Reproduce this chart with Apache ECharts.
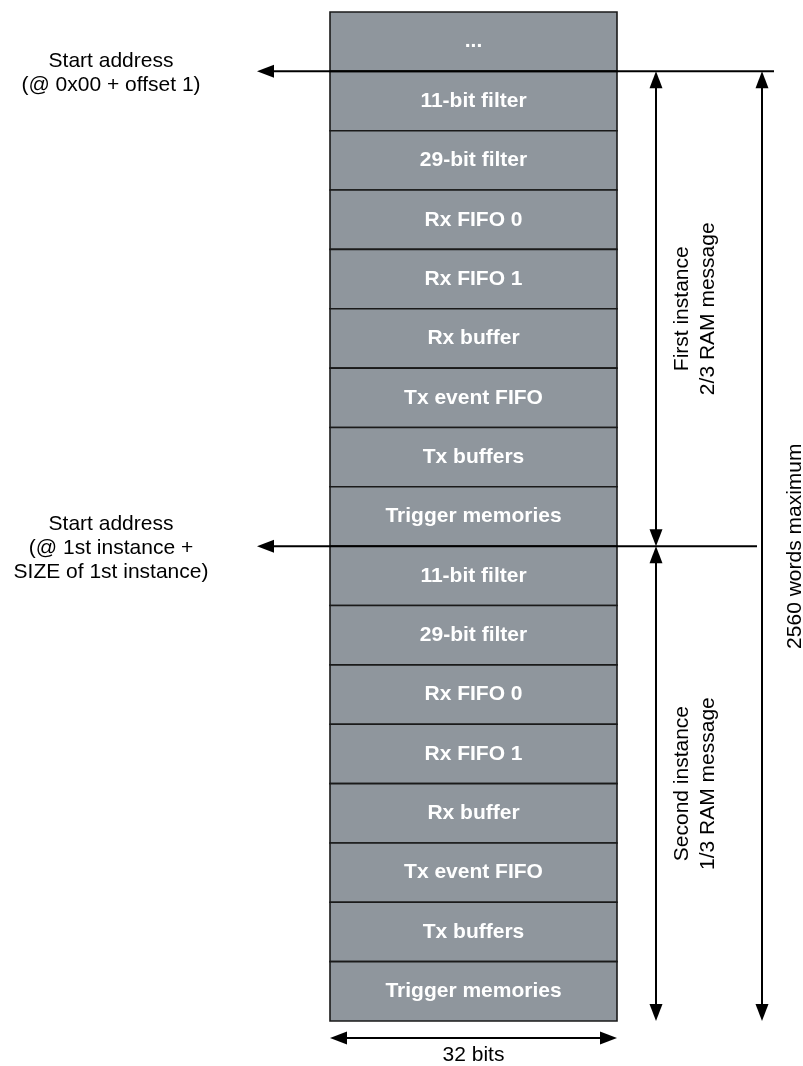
<!DOCTYPE html>
<html><head><meta charset="utf-8">
<script src="https://cdn.jsdelivr.net/npm/echarts@6/dist/echarts.min.js"></script>
<style>html,body{margin:0;padding:0;background:#fff}#c{width:803px;height:1066px}</style>
</head><body><div id="c"></div>
<script>
// ---- data ----
const blockLabels = ['...', '11-bit filter', '29-bit filter', 'Rx FIFO 0', 'Rx FIFO 1', 'Rx buffer', 'Tx event FIFO', 'Tx buffers', 'Trigger memories',
  '11-bit filter', '29-bit filter', 'Rx FIFO 0', 'Rx FIFO 1', 'Rx buffer', 'Tx event FIFO', 'Tx buffers', 'Trigger memories'];
const wordBits = 32;
const instanceStarts = [1, 9];
const instanceEnds = [9, 17];
const instanceLabels = ['First instance\n2/3 RAM message', 'Second instance\n1/3 RAM message'];
const startAddressRows = [1, 9];
const startAddressLabels = ['Start address\n(@ 0x00 + offset 1)', 'Start address\n(@ 1st instance +\nSIZE of 1st instance)'];
const totalSpan = [1, 17];
const totalLabel = '2560 words maximum';
const widthLabel = '32 bits';

// ---- styles ----
const FONT = '"Liberation Sans", Arial, Helvetica, sans-serif';
const BLOCK_FILL = '#8f969d';
const BORDER = '#1a1a1a';
const INK = '#000000';
const LW = 2;

function head(tx, ty, dx, dy) {
  const L = 17, W = 6.5;
  const bx = tx - dx * L, by = ty - dy * L;
  const px = -dy, py = dx;
  return { type: 'polygon', shape: { points: [[tx, ty], [bx + px * W, by + py * W], [bx - px * W, by - py * W]] }, style: { fill: INK } };
}
function seg(x1, y1, x2, y2) {
  return { type: 'line', shape: { x1, y1, x2, y2 }, style: { stroke: INK, lineWidth: LW } };
}
function txt(text, x, y, opts) {
  return Object.assign({ type: 'text', x: x, y: y, style: Object.assign({ text: text, x: 0, y: 0, align: 'center', verticalAlign: 'middle', fill: INK, font: '21px ' + FONT }, opts && opts.style) }, opts && opts.el);
}

const chart = echarts.init(document.getElementById('c'), null, { renderer: 'canvas' });
const option = {
  backgroundColor: '#ffffff',
  animation: false,
  grid: { left: 330, top: 12, width: 287, height: 1009 },
  xAxis: { type: 'value', min: 0, max: wordBits, show: false },
  yAxis: { type: 'value', min: 0, max: blockLabels.length, inverse: true, show: false },
  series: [
    {
      type: 'custom', name: 'blocks', clip: false,
      data: blockLabels.map((l, i) => [i]),
      renderItem(params, api) {
        const i = api.value(0);
        const p0 = api.coord([0, i]), p1 = api.coord([wordBits, i + 1]);
        return { type: 'group', children: [
          { type: 'rect', shape: { x: p0[0], y: p0[1], width: p1[0] - p0[0], height: p1[1] - p0[1] }, style: { fill: BLOCK_FILL, stroke: BORDER, lineWidth: 1.6 } },
          { type: 'text', style: { text: blockLabels[i], x: (p0[0] + p1[0]) / 2, y: (p0[1] + p1[1]) / 2, align: 'center', verticalAlign: 'middle', fill: '#ffffff', font: 'bold 21px ' + FONT } }
        ] };
      }
    },
    {
      type: 'custom', name: 'start addresses', clip: false,
      data: startAddressRows.map((r, k) => [r, k]),
      renderItem(params, api) {
        const r = api.value(0), k = api.value(1);
        const pL = api.coord([0, r]), pR = api.coord([wordBits, r]);
        const totalX = pR[0] + 145;
        const endX = r === totalSpan[0] ? totalX + 12 : totalX - 5;
        const tipX = pL[0] - 73;
        return { type: 'group', children: [
          seg(tipX + 10, pL[1], endX, pL[1]),
          head(tipX, pL[1], -1, 0),
          txt(startAddressLabels[k], pL[0] - 219, pL[1] + 2, { style: { lineHeight: 24 } })
        ] };
      }
    },
    {
      type: 'custom', name: 'instances', clip: false,
      data: instanceStarts.map((s, k) => [s, instanceEnds[k], k]),
      renderItem(params, api) {
        const s = api.value(0), e = api.value(1), k = api.value(2);
        const pT = api.coord([wordBits, s]), pB = api.coord([wordBits, e]);
        const x = pT[0] + 39;
        return { type: 'group', children: [
          seg(x, pT[1] + 10, x, pB[1] - 10),
          head(x, pT[1], 0, -1),
          head(x, pB[1], 0, 1),
          txt(instanceLabels[k], pT[0] + 78, (pT[1] + pB[1]) / 2, { style: { lineHeight: 26 }, el: { rotation: Math.PI / 2 } })
        ] };
      }
    },
    {
      type: 'custom', name: 'total', clip: false,
      data: [[totalSpan[0], totalSpan[1]]],
      renderItem(params, api) {
        const pT = api.coord([wordBits, api.value(0)]), pB = api.coord([wordBits, api.value(1)]);
        const x = pT[0] + 145;
        return { type: 'group', children: [
          seg(x, pT[1] + 10, x, pB[1] - 10),
          head(x, pT[1], 0, -1),
          head(x, pB[1], 0, 1),
          txt(totalLabel, x + 33, (pT[1] + pB[1]) / 2, { el: { rotation: Math.PI / 2 } })
        ] };
      }
    },
    {
      type: 'custom', name: 'width', clip: false,
      data: [[0, wordBits]],
      renderItem(params, api) {
        const n = blockLabels.length;
        const pL = api.coord([api.value(0), n]), pR = api.coord([api.value(1), n]);
        const y = pL[1] + 17;
        return { type: 'group', children: [
          seg(pL[0] + 10, y, pR[0] - 10, y),
          head(pL[0], y, -1, 0),
          head(pR[0], y, 1, 0),
          txt(widthLabel, (pL[0] + pR[0]) / 2, y + 17)
        ] };
      }
    }
  ]
};
chart.setOption(option);
</script>
</body></html>
